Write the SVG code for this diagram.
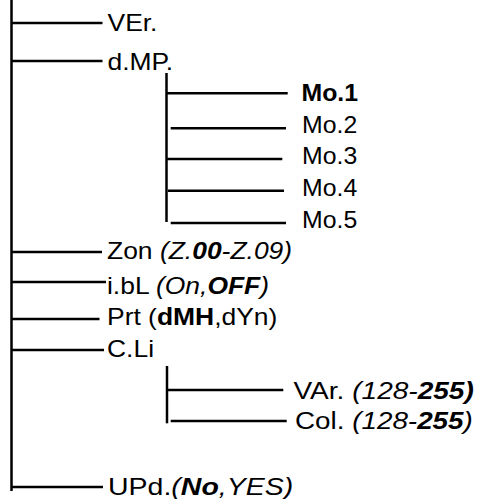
<svg xmlns="http://www.w3.org/2000/svg" width="480" height="499" viewBox="0 0 480 499">
<style>
.ln{stroke:#000;stroke-width:2.5;fill:none}
text{font-family:"Liberation Sans",Arial,Helvetica,sans-serif;font-size:23px;fill:#000}
.b{font-weight:bold}
.i{font-style:italic}
.bi{font-weight:bold;font-style:italic}
</style>
<rect width="480" height="499" fill="#fff"/>
<g id="connectors">
<line class="ln" x1="11.5" y1="0" x2="11.5" y2="491"/>
<line class="ln" x1="11.5" y1="23" x2="102.5" y2="23"/>
<line class="ln" x1="11.5" y1="61" x2="102.5" y2="61"/>
<line class="ln" x1="166.5" y1="73" x2="166.5" y2="222"/>
<line class="ln" x1="166" y1="93.3" x2="287.7" y2="93.3"/>
<line class="ln" x1="170.7" y1="128.3" x2="286" y2="128.3"/>
<line class="ln" x1="167" y1="159" x2="282.3" y2="159"/>
<line class="ln" x1="168" y1="190.7" x2="284" y2="190.7"/>
<line class="ln" x1="170.7" y1="223" x2="286" y2="223"/>
<line class="ln" x1="11.5" y1="252" x2="102" y2="252"/>
<line class="ln" x1="11.5" y1="282" x2="106" y2="282"/>
<line class="ln" x1="11.5" y1="319" x2="99.5" y2="319"/>
<line class="ln" x1="11.5" y1="350" x2="104" y2="350"/>
<line class="ln" x1="167" y1="366" x2="167" y2="423.3"/>
<line class="ln" x1="168" y1="390" x2="283.3" y2="390"/>
<line class="ln" x1="170.7" y1="421" x2="286.7" y2="421"/>
<line class="ln" x1="11.5" y1="487" x2="103" y2="487"/>
</g>
<g id="n-ver"><text transform="translate(107.5,31) scale(1.15,1)">VEr.</text></g>
<g id="n-dmp"><text transform="translate(107.5,70) scale(1.15,1)">d.MP.</text></g>
<g id="n-mo1"><text class="b" transform="translate(301.5,101) scale(1.08,1)">Mo.1</text></g>
<g id="n-mo2"><text transform="translate(302,133) scale(1.08,1)">Mo.2</text></g>
<g id="n-mo3"><text transform="translate(302,164) scale(1.08,1)">Mo.3</text></g>
<g id="n-mo4"><text transform="translate(302,195.5) scale(1.08,1)">Mo.4</text></g>
<g id="n-mo5"><text transform="translate(302,228) scale(1.08,1)">Mo.5</text></g>
<g id="n-zon"><text transform="translate(107,258.5) scale(1.15,1)">Zon <tspan class="i">(Z.</tspan><tspan class="bi">00</tspan><tspan class="i">-Z.09)</tspan></text></g>
<g id="n-ibl"><text transform="translate(107,294) scale(1.15,1)">i.bL <tspan class="i">(On,</tspan><tspan class="bi">OFF</tspan><tspan class="i">)</tspan></text></g>
<g id="n-prt"><text transform="translate(107,325) scale(1.15,1)">Prt (<tspan class="b">dMH</tspan>,dYn)</text></g>
<g id="n-cli"><text transform="translate(107,356.5) scale(1.15,1)">C.Li</text></g>
<g id="n-var"><text transform="translate(293.5,399) scale(1.22,1)">VAr. <tspan class="i">(128-</tspan><tspan class="bi">255)</tspan></text></g>
<g id="n-col"><text transform="translate(295,429) scale(1.21,1)">Col. <tspan class="i">(128-</tspan><tspan class="bi">255</tspan><tspan class="i">)</tspan></text></g>
<g id="n-upd"><text transform="translate(108,494.5) scale(1.24,1)">UPd.<tspan class="i">(</tspan><tspan class="bi">No</tspan><tspan class="i">,YES)</tspan></text></g>
</svg>
